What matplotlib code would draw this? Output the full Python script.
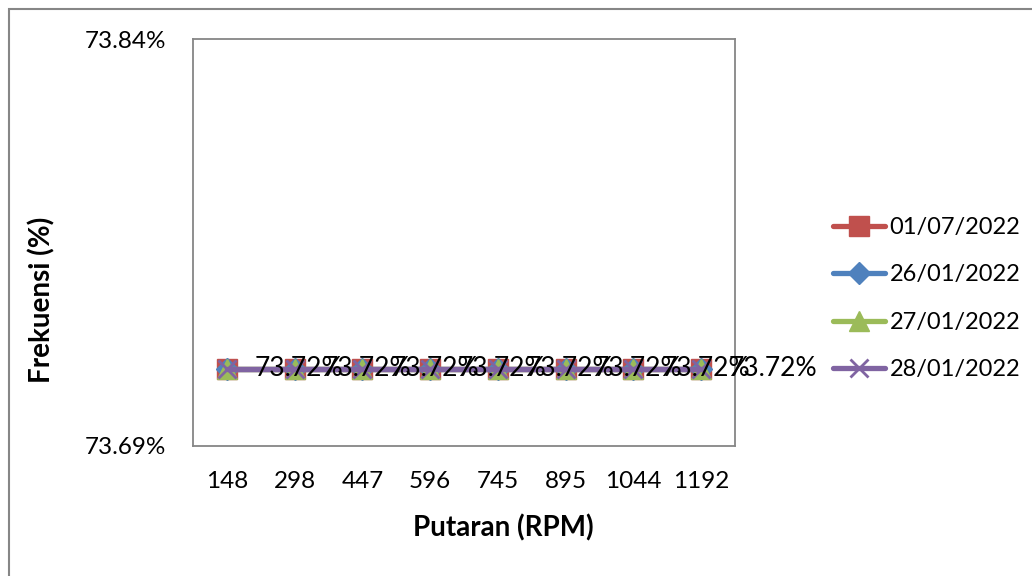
import numpy as np
import matplotlib
matplotlib.use("Agg")
import matplotlib.pyplot as plt
from matplotlib.patches import Rectangle

plt.rcParams['font.family'] = ['Lato', 'DejaVu Sans']

rpm = ['148', '298', '447', '596', '745', '895', '1044', '1192']
series_names = ['01/07/2022', '26/01/2022', '27/01/2022', '28/01/2022']
freq_0107 = [73.7184] * 8
freq_2601 = [73.7184] * 8
freq_2701 = [73.7184] * 8
freq_2801 = [73.7184] * 8
y_ticks = [73.69, 73.84]

colors = ['#C0504D', '#4F81BD', '#9BBB59', '#8064A2']
markers = ['s', 'D', '^', 'x']
sizes = [14, 11, 14, 13]
data = [freq_0107, freq_2601, freq_2701, freq_2801]

fig = plt.figure(figsize=(10.32, 5.76), dpi=100)
fig.patches.append(Rectangle((9 / 1032, -0.1), 1.2, 1 - 9 / 576 + 0.1,
                             transform=fig.transFigure, fill=False,
                             edgecolor='#868686', linewidth=1.5))
ax = fig.add_axes([193 / 1032, 1 - 446 / 576, 542 / 1032, 407 / 576])

x = np.arange(len(rpm))
for name, vals, c, m, s in zip(series_names, data, colors, markers, sizes):
    ax.plot(x, vals, color=c, marker=m, markersize=s, linewidth=3.8,
            markeredgecolor=c, markeredgewidth=2 if m == 'x' else 1,
            solid_capstyle='round', label=name)

# data labels of the top series
for xi, v in zip(x, freq_2801):
    ax.annotate(f'{v:.2f}%', (xi, v), xytext=(20, 0), textcoords='offset points',
                ha='left', va='center', fontsize=19, color='black')

ax.set_xlim(-0.5, len(rpm) - 0.5)
ax.set_ylim(y_ticks[0], y_ticks[1])
ax.set_xticks(x)
ax.set_xticklabels(rpm, fontsize=17.5)
ax.set_yticks(y_ticks)
ax.set_yticklabels([f'{t:.2f}%' for t in y_ticks], fontsize=17.5)
ax.tick_params(length=0)
ax.tick_params(axis='x', pad=18)
ax.tick_params(axis='y', pad=19)
for sp in ax.spines.values():
    sp.set_color('#868686')
    sp.set_linewidth(1.3)

ax.set_xlabel('Putaran (RPM)', fontsize=20, fontweight='bold', va='center')
ax.xaxis.set_label_coords(0.572, -0.2015)
ax.set_ylabel('Frekuensi (%)', fontsize=20, fontweight='bold', va='center')
ax.yaxis.set_label_coords((42 - 193) / 542, (446 - 300) / 407)

ax.legend(loc='center left', bbox_to_anchor=((833 - 193) / 542, 0.362), frameon=False,
          fontsize=17, handlelength=2.2, labelspacing=1.12, handletextpad=0.2,
          borderpad=0, borderaxespad=0)

fig.savefig('out.png', dpi=100)
